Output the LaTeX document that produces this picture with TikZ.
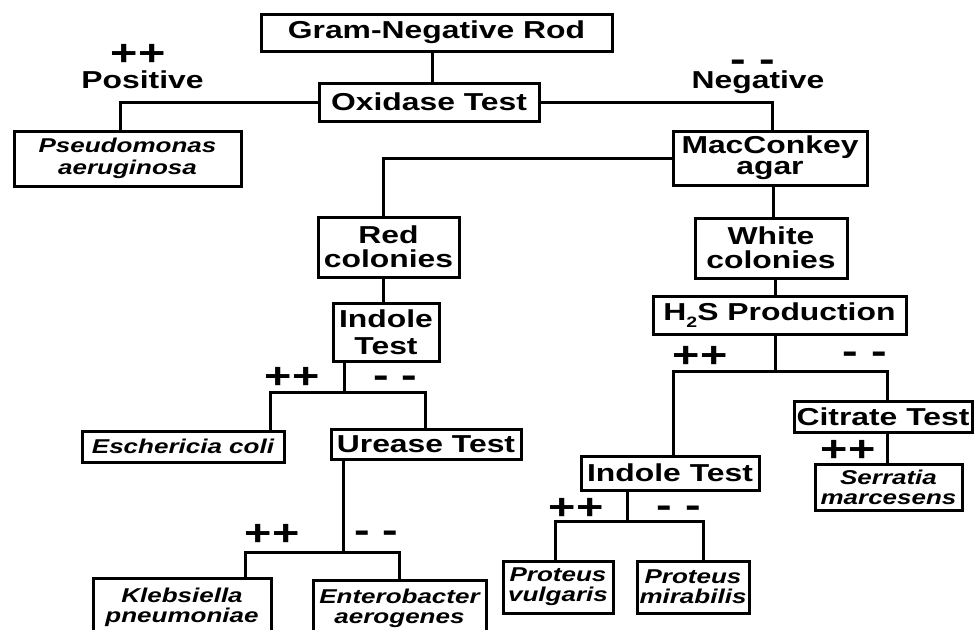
\documentclass[tikz,border=0pt]{standalone}
\usepackage{fontspec}
\setmainfont{Liberation Sans}[FakeStretch=1.3]
\newcommand{\boxfont}{\fontsize{24.5}{24}\selectfont\bfseries}
\newcommand{\speciesfont}{\fontsize{20}{20}\selectfont\bfseries\itshape}
\newcommand{\signfont}{\fontsize{36}{36}\selectfont\bfseries}
\begin{document}
\begin{tikzpicture}[x=1pt,y=-1pt,
  box/.style={draw, line width=3pt, inner sep=0pt, align=center, font=\boxfont},
  species/.style={box, font=\speciesfont},
  sign/.style={inner sep=0pt, anchor=base, font=\signfont, text height=0.6em, text depth=0pt},
  dashsign/.style={sign, text height=0.33em},
  result/.style={inner sep=0pt, anchor=base, font=\boxfont},
  link/.style={line width=3pt, line cap=rect, line join=miter}]
\useasboundingbox (0,0) rectangle (974,629);
\fill[white] (0,0) rectangle (974,629);
\clip (0,0) rectangle (974,629);

% test and result boxes
\node[box, minimum width=351, minimum height=37] (gram) at (436.5,32.5) {Gram-Negative Rod};
\node[box, minimum width=220, minimum height=38] (oxid) at (429,102) {Oxidase Test};
\node[species, minimum width=227, minimum height=55, font=\fontsize{20}{22}\selectfont\bfseries\itshape] (pseudo) at (127.5,158.5) {Pseudomonas\\aeruginosa};
\node[box, minimum width=194, minimum height=54, font=\fontsize{24.5}{21}\selectfont\bfseries] (mac) at (770,158) {MacConkey\\agar};
\node[box, minimum width=141, minimum height=60] (red) at (388.5,247) {Red\\colonies};
\node[box, minimum width=106, minimum height=58, font=\fontsize{24.5}{27}\selectfont\bfseries] (indL) at (386,332) {Indole\\Test};
\node[species, minimum width=202, minimum height=31] (ecoli) at (183,446.5) {Eschericia coli};
\node[box, minimum width=190, minimum height=30] (urease) at (426,444) {Urease Test};
\node[species, minimum width=178, minimum height=58] (kleb) at (182,607) {Klebsiella\\pneumoniae};
\node[species, minimum width=173, minimum height=56] (entero) at (399.5,608) {Enterobacter\\aerogenes};
\node[box, minimum width=152, minimum height=60] (white) at (771,248) {White\\colonies};
\node[box, minimum width=253, minimum height=38] (h2s) at (779.5,315) {H\raisebox{-0.3em}{\fontsize{15}{15}\selectfont 2}S Production};
\node[box, minimum width=178, minimum height=31] (citrate) at (883,416.5) {Citrate Test};
\node[species, minimum width=147, minimum height=46] (serratia) at (888.5,487) {Serratia\\marcesens};
\node[box, minimum width=178, minimum height=34] (indR) at (670,473) {Indole Test};
\node[species, minimum width=110, minimum height=52] (pvul) at (558,587) {Proteus\\vulgaris};
\node[species, minimum width=112, minimum height=52] (pmir) at (693,587) {Proteus\\mirabilis};

% outcome labels
\node[sign] (oxpos) at (138,65) {++};
\node[result] (oxposlbl) at (142.5,88) {Positive};
\node[dashsign] (oxneg) at (753,71.5) {- -};
\node[result] (oxneglbl) at (758,88.5) {Negative};
\node[sign] (inLpos) at (292,388.5) {++};
\node[dashsign] (inLneg) at (395.5,387.5) {- -};
\node[sign] (urpos) at (272,545) {++};
\node[dashsign] (urneg) at (376.5,542.5) {- -};
\node[sign] (h2spos) at (700,367) {++};
\node[dashsign] (h2sneg) at (865,363.5) {- -};
\node[sign] (citpos) at (848,461.5) {++};
\node[sign] (inRpos) at (576,519.5) {++};
\node[dashsign] (inRneg) at (679,517) {- -};

% connector columns and fork points
\coordinate (rootcol) at (432,0);
\coordinate (poscol) at (120,0);
\coordinate (negcol) at (772,0);
\coordinate (redcol) at (383,0);
\coordinate (forkIL) at (344,392);
\coordinate (ecolcol) at (270,0);
\coordinate (urcol) at (425,0);
\coordinate (forkUr) at (343,552);
\coordinate (klcol) at (245,0);
\coordinate (encol) at (399,0);
\coordinate (whcol) at (773,0);
\coordinate (h2col) at (775,0);
\coordinate (forkH2) at (775,371);
\coordinate (inRcol) at (673,0);
\coordinate (citcol) at (887,0);
\coordinate (forkIR) at (627,521);
\coordinate (pvcol) at (555,0);
\coordinate (pmcol) at (703,0);

% connectors
\draw[link] (gram.south -| rootcol) -- (oxid.north -| rootcol);
\draw[link] (oxid.west) -| (pseudo.north -| poscol);
\draw[link] (oxid.east) -| (mac.north -| negcol);
\draw[link] (mac.west) -| (red.north -| redcol);
\draw[link] (red.south -| redcol) -- (indL.north -| redcol);
\draw[link] (indL.south -| forkIL) -- (forkIL);
\draw[link] (ecoli.north -| ecolcol) |- (forkIL) -| (urease.north -| urcol);
\draw[link] (urease.south -| forkUr) -- (forkUr);
\draw[link] (kleb.north -| klcol) |- (forkUr) -| (entero.north -| encol);
\draw[link] (mac.south -| whcol) -- (white.north -| whcol);
\draw[link] (white.south -| h2col) -- (h2s.north -| h2col);
\draw[link] (h2s.south -| forkH2) -- (forkH2);
\draw[link] (indR.north -| inRcol) |- (forkH2) -| (citrate.north -| citcol);
\draw[link] (citrate.south -| citcol) -- (serratia.north -| citcol);
\draw[link] (indR.south -| forkIR) -- (forkIR);
\draw[link] (pvul.north -| pvcol) |- (forkIR) -| (pmir.north -| pmcol);
\end{tikzpicture}
\end{document}
